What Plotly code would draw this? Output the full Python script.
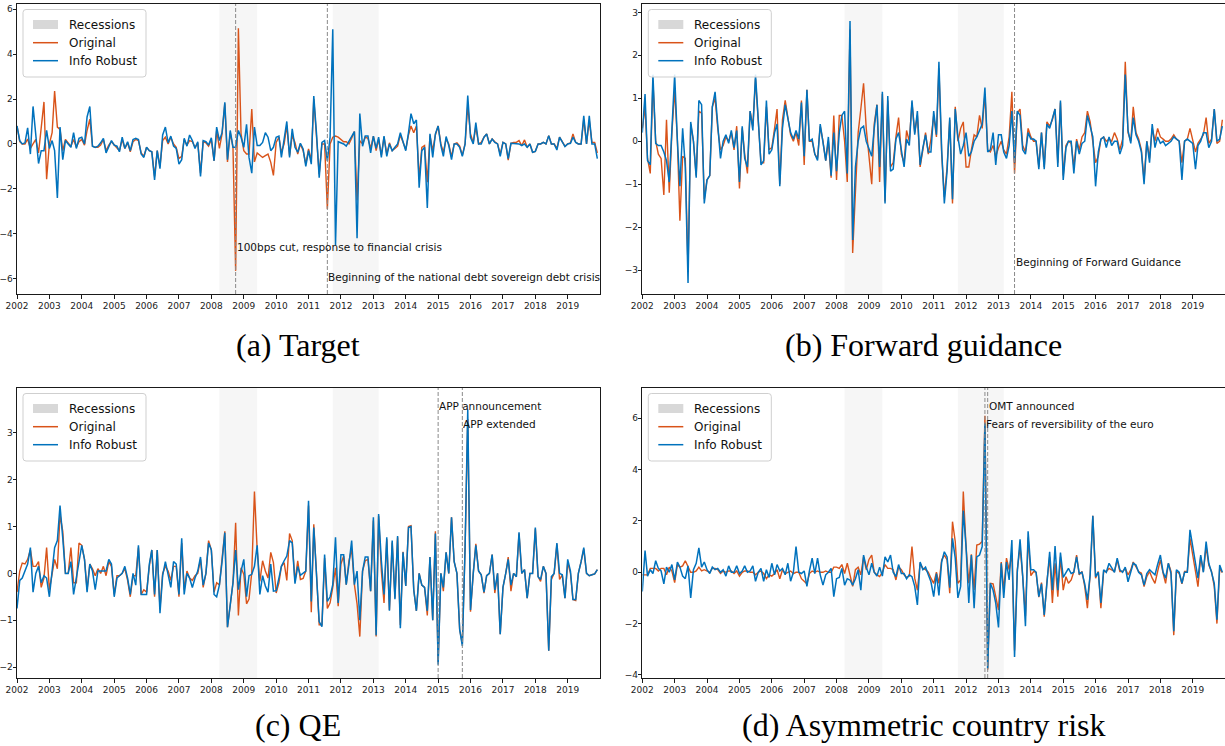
import pandas as pd
import plotly.graph_objects as go

W, H = 1225, 746

# Monthly observations, Jan 2002 - Dec 2019
dates = pd.date_range("2002-01-01", periods=216, freq="MS")

# (a) Target
target_original = [
    0.8, 0.1, 0.0, 0.0, 0.22, -0.2, 0.0, 0.2, -0.4, 0.6, 1.87, -1.57,
    0.0, 0.5, 2.35, 0.75, 0.65, -0.3, 0.2, 0.05, -0.1, 0.2, -0.15, 0.1,
    0.2, -0.05, 0.6, 1.1, -0.1, -0.15, -0.15, -0.05, 0.2, -0.3, -0.05, 0.1,
    -0.05, -0.15, -0.3, 0.2, -0.2, 0.05, -0.35, 0.1, 0.2, 0.15, -0.4, -0.55,
    -0.15, -0.3, -0.35, -1.45, -0.3, -1.0, 0.15, 0.3, 0.0, 0.3, 0.0, -0.15,
    -0.65, -0.55, 0.2, -0.05, 0.15, 0.1, -0.15, 0.05, -1.3, 0.1, 0.05, -0.1,
    0.2, -0.75, 0.6, -0.2, 0.45, 1.8, -0.8, 0.5, -0.15, -5.65, 5.15, 0.45,
    -0.3, -0.45, -0.45, 1.55, -0.8, -0.4, -0.5, -0.6, -0.52, -0.45, -0.82, -1.4,
    0.07, 0.3, -0.37, 0.0, 0.82, -0.52, 0.37, 0.07, -0.45, 0.0, -0.3, -0.9,
    -0.22, -0.75, 2.0, 0.15, -1.35, 0.0, 0.0, -2.9, 0.0, 0.3, 0.35, 0.3,
    0.2, 0.1, 0.1, 0.0, 0.25, 0.55, -2.5, 0.15, 0.0, 0.3, 0.25, -0.2,
    0.35, -0.3, 0.2, -0.5, 0.3, -0.45, 0.05, -0.3, -0.2, -0.1, 0.4, 0.1,
    -0.25, 0.4, 0.8, 0.5, 0.8, -1.55, -0.15, -0.07, -1.7, 0.37, -0.3, 0.4,
    0.8, 0.0, -0.37, 0.22, 0.0, -0.57, 0.0, 0.05, -0.1, -0.5, 0.0, 1.7,
    0.45, 0.07, 0.75, 0.0, 0.07, 0.3, 0.45, 0.0, 0.22, 0.1, 0.0, -0.45,
    0.07, 0.0, -0.72, 0.03, 0.07, 0.07, 0.15, -0.07, 0.18, -0.15, 0.0, -0.37,
    -0.33, 0.0, 0.0, 0.07, 0.0, 0.37, 0.0, 0.0, -0.2, 0.3, 0.07, -0.1,
    0.0, 0.05, 0.45, 0.07, 0.0, 0.0, 1.1, 0.0, 1.05, 0.07, 0.07, -0.4,
]
target_robust = [
    0.8, 0.15, 0.0, 0.05, 0.72, -0.45, 1.67, 0.2, -0.87, -0.3, -0.3, 0.6,
    -0.2, 0.15, -0.3, -2.4, 0.75, -0.7, 0.15, 0.0, -0.15, 0.5, -0.2, 0.25,
    0.3, 0.0, 1.2, 1.67, -0.1, -0.15, -0.1, 0.05, 0.25, -0.4, -0.1, 0.15,
    -0.05, -0.1, -0.35, 0.3, -0.2, 0.1, -0.3, 0.2, 0.25, 0.2, -0.45, -0.6,
    -0.15, -0.3, -0.35, -1.6, -0.3, -1.1, 0.4, 0.75, 0.05, 0.35, -0.1, -0.2,
    -0.9, -0.7, 0.25, -0.1, 0.4, 0.15, -0.2, 0.1, -1.45, 0.15, 0.1, -0.05,
    0.27, -0.75, 0.75, 0.15, 0.5, 1.85, -0.7, 0.6, -0.15, -0.15, 0.6, 0.3,
    -0.15, 0.87, -0.6, -1.3, 0.75, -0.07, -0.07, 0.07, 0.5, 0.3, -0.3, -0.15,
    0.3, 0.35, -0.6, 0.15, 1.0, -0.6, 0.67, -0.15, -0.37, 0.03, -0.22, -1.0,
    -0.3, -0.9, 2.13, 0.45, -1.5, 0.07, 0.15, -0.75, 0.3, 5.1, -4.5, 0.1,
    0.05, 0.0, -0.1, 0.1, 0.3, 0.55, -4.2, 1.35, -0.1, 0.35, 0.35, -0.4,
    0.35, -0.2, 0.3, -0.6, 0.35, -0.55, 0.0, -0.3, -0.15, 0.0, 0.5, 0.15,
    -0.3, 0.5, 1.35, 0.9, 1.07, -1.95, -0.3, -0.15, -2.85, 0.45, -0.6, 0.45,
    0.8, -0.07, -0.55, 0.33, -0.07, -0.7, 0.0, 0.0, -0.15, -0.55, 0.0, 2.15,
    0.3, 0.0, 0.95, 0.0, 0.0, 0.3, 0.45, 0.0, 0.22, 0.07, 0.0, -0.55,
    0.07, 0.0, -0.65, 0.03, 0.03, 0.0, 0.0, -0.07, 0.0, -0.15, 0.0, -0.37,
    -0.33, 0.0, 0.0, 0.07, 0.0, 0.37, 0.0, 0.0, -0.27, 0.3, 0.07, -0.12,
    0.0, 0.03, 0.3, 0.07, 0.0, 0.0, 1.25, 0.0, 1.25, 0.0, 0.0, -0.65,
]

# (b) Forward guidance
fg_original = [
    0.3, 0.8, -0.4, -0.75, 1.4, 0.0, -0.3, -0.4, -1.25, 0.5, -1.2, 0.2,
    1.2, 0.0, -1.85, -0.35, -0.4, -3.0, 0.4, 0.0, -0.8, 0.7, 0.65, -1.35,
    -0.9, -0.8, 0.8, 1.0, 0.3, -0.2, -0.1, 0.1, 0.0, 0.2, -0.2, 0.35,
    -1.1, 0.3, -0.3, -0.75, 0.7, 0.35, 1.45, 0.4, -0.5, -0.5, 0.8, -0.2,
    -0.15, 0.3, 0.75, -1.0, 0.5, 0.95, 0.6, 0.15, 0.0, 0.2, -0.1, 0.95,
    -0.55, 1.2, 0.0, 0.0, -0.3, -0.4, 0.35, 0.0, -0.45, 0.0, -0.85, 0.6,
    -0.9, 0.6, 0.6, 0.0, -0.95, 2.6, -2.6, -1.3, 0.2, 0.75, 1.35, 0.3,
    -0.3, -1.0, 0.4, 0.85, -0.95, 1.1, -1.4, 0.95, -0.6, -0.5, 0.1, 0.55,
    -0.3, -0.5, 0.25, 0.0, 0.9, 0.2, 0.6, -0.6, -0.2, 0.2, -0.3, 0.05,
    0.6, 0.1, 1.7, -0.3, -1.3, -0.6, 0.5, -1.45, 0.8, 0.0, 0.3, 0.45,
    -0.6, -0.6, -0.2, 0.15, 0.1, 0.6, 0.3, 1.1, -0.2, -0.25, -0.1, -0.35,
    -0.15, 0.0, -0.2, -0.3, 0.1, 1.15, -0.75, 0.65, 0.75, -0.1, -0.25, 0.3,
    0.1, 0.0, 0.0, -0.6, 0.2, -0.6, 0.45, 0.35, 0.5, 0.75, -0.5, 0.9,
    -0.8, -0.1, 0.0, -0.05, -0.6, 0.05, -0.2, 0.1, 0.2, 0.7, 0.45, 0.0,
    -0.5, -0.35, 0.05, 0.1, 0.0, 0.05, 0.0, 0.2, 0.05, -0.2, 0.05, 1.85,
    0.2, 0.0, 0.8, 0.2, 0.05, -0.2, -0.9, 0.0, -0.4, 0.3, 0.0, 0.3,
    0.1, 0.05, 0.0, 0.0, 0.05, 0.15, 0.05, 0.0, -0.5, 0.0, 0.05, 0.3,
    0.05, -0.25, -0.05, 0.05, 0.15, 0.55, -0.05, 0.05, 0.75, -0.05, 0.0, 0.5,
]
fg_robust = [
    0.2, 1.1, -0.45, -0.55, 1.55, -0.05, -0.1, -0.1, -0.25, -0.45, -0.95, 0.3,
    1.55, 0.0, -1.05, 0.3, -0.6, -3.3, 0.45, 0.0, -0.85, 0.95, 0.85, -1.45,
    -0.9, -0.8, 0.8, 1.15, 0.3, -0.4, 0.0, 0.15, -0.05, 0.25, -0.15, 0.25,
    -0.95, 0.35, -0.4, -0.6, 0.7, 0.25, 1.55, 0.35, -0.55, -0.45, 0.95, -0.3,
    -0.2, 0.2, 0.4, -1.05, 0.3, 0.85, 0.55, 0.2, 0.05, 0.25, 0.05, 0.9,
    -0.35, 1.2, 0.0, 0.05, -0.3, -0.45, 0.4, 0.0, -0.45, 0.1, -0.8, 0.2,
    -0.7, 0.2, 0.6, 0.7, -0.75, 2.8, -2.3, -0.6, 0.0, 0.3, 0.35, 0.0,
    -0.2, -0.35, 0.3, 0.85, -0.6, 1.15, -1.45, 1.05, -0.7, -0.65, 0.05, 0.2,
    -0.2, -0.6, 0.05, -0.1, 0.95, 0.15, 0.7, -0.55, -0.15, 0.15, -0.25, -0.25,
    0.7, 0.15, 1.85, -0.2, -1.45, -0.7, 0.55, -1.35, 0.75, 0.1, -0.3, -0.1,
    0.2, -0.35, -0.25, 0.0, 0.1, 0.25, 0.4, 1.25, -0.25, -0.2, 0.2, -0.55,
    0.15, 0.15, -0.25, -0.4, -0.1, 0.7, -0.5, 0.7, 0.6, -0.2, -0.3, 0.2,
    0.05, 0.05, 0.0, -0.65, 0.2, -0.65, 0.4, 0.3, 0.5, 0.75, -0.6, 0.95,
    -0.9, -0.15, 0.0, 0.0, -0.75, 0.0, -0.3, -0.05, 0.0, 0.6, 0.35, 0.1,
    -1.05, -0.25, 0.05, 0.1, -0.15, 0.1, -0.1, 0.0, 0.0, -0.3, -0.1, 1.55,
    0.25, -0.05, 0.55, 0.15, 0.0, -0.25, -1.0, 0.0, -0.5, 0.4, -0.15, 0.1,
    -0.05, 0.0, -0.1, -0.05, 0.0, 0.1, 0.05, 0.0, -0.9, 0.0, 0.05, 0.0,
    -0.05, -0.65, -0.1, 0.0, 0.2, 0.2, -0.15, 0.0, 0.75, 0.0, 0.05, 0.35,
]

# (c) QE
qe_original = [
    -0.4, 0.05, 0.22, 0.2, 0.3, 0.5, 0.15, 0.15, 0.25, -0.3, -0.1, 0.55,
    -0.35, 0.0, 0.3, 0.1, 1.25, 0.9, 0.0, 0.0, 0.55, -0.2, -0.2, 0.65,
    0.6, 0.3, -0.35, 0.2, 0.1, -0.05, 0.1, 0.0, 0.15, -0.05, 0.25, 0.15,
    -0.45, -0.05, -0.05, 0.0, 0.1, -0.15, -0.5, -0.05, -0.05, 0.55, -0.45, -0.35,
    -0.4, 0.15, 0.5, -0.5, 0.5, -0.75, 0.0, 0.15, 0.05, -0.15, 0.15, 0.15,
    -0.5, 0.65, -0.35, 0.05, -0.1, -0.15, -0.05, 0.0, 0.3, -0.3, 0.0, 0.7,
    0.5, -0.4, -0.2, -0.25, 0.25, 0.9, -1.15, -0.6, -0.2, 1.08, -0.9, 0.12,
    -0.02, -0.65, -0.55, 0.02, 1.75, 0.5, -0.17, 0.27, 0.05, -0.1, 0.45, 0.23,
    -0.42, -0.2, 0.15, 0.23, -0.15, 0.85, 0.7, -0.17, 0.27, -0.13, -0.11, 0.05,
    1.45, -0.83, 1.05, -0.02, -1.1, -1.1, 0.33, -0.75, -0.63, -0.3, 0.12, -0.7,
    0.2, 0.37, -0.24, 0.27, 0.52, -0.24, -0.65, -1.35, 0.05, 0.27, 0.3, -0.38,
    1.13, -1.35, 1.23, 0.05, -0.63, 0.73, -0.78, 0.66, -0.52, 0.77, -1.1, 0.46,
    -0.27, 1.0, 1.02, -0.35, -0.8, 0.0, -0.25, -0.3, -0.9, 0.35, -1.0, 0.9,
    -1.9, 0.0, -0.38, 0.45, 0.0, 1.2, 0.25, 0.0, -1.2, -1.5, 0.55, 3.3,
    -0.82, 0.0, 0.63, 0.05, -0.03, -0.42, -0.05, 0.0, 0.4, -0.42, 0.0, -1.3,
    -0.3, 0.0, 0.35, -0.38, 0.0, -0.07, 0.85, 0.0, 0.08, -0.53, 0.0, 0.0,
    0.95, -0.07, -0.17, 0.15, 0.0, -1.65, -0.13, 0.0, 0.62, -0.13, -0.03, -0.53,
    0.23, 0.0, -0.56, -0.58, 0.0, 0.25, 0.52, 0.0, -0.05, -0.03, -0.01, 0.08,
]
qe_robust = [
    -0.75, -0.15, -0.1, 0.05, 0.2, 0.55, -0.4, 0.0, 0.15, -0.2, -0.05, -0.1,
    -0.5, 0.05, 0.55, 0.7, 1.45, 0.75, 0.0, 0.0, 0.25, -0.45, -0.1, 0.3,
    0.6, 0.3, -0.4, 0.2, 0.05, -0.35, 0.05, 0.05, 0.05, 0.05, 0.3, 0.2,
    -0.5, -0.1, -0.05, 0.0, 0.15, -0.1, -0.45, 0.0, -0.25, 0.6, -0.45, -0.45,
    -0.45, 0.2, 0.5, -0.45, 0.5, -0.85, -0.05, 0.25, 0.0, -0.3, 0.25, 0.2,
    -0.45, 0.75, -0.45, 0.0, -0.1, -0.3, -0.1, 0.05, 0.35, -0.25, 0.0, 0.65,
    0.5, -0.45, -0.5, -0.25, 0.25, 0.87, -1.15, -0.6, -0.2, 0.5, -0.35, 0.05,
    0.3, -0.5, -0.05, -0.02, 0.15, 0.6, -0.45, -0.05, -0.27, -0.4, 0.2, -0.38,
    -0.37, -0.1, 0.15, 0.27, 0.37, 0.7, 0.65, -0.22, 0.15, -0.04, 0.0, 0.05,
    1.55, -0.6, 0.98, 0.05, -1.03, -1.14, 0.4, -0.6, -0.5, -0.24, 0.77, -0.63,
    0.4, 0.4, -0.24, 0.2, 0.7, -0.24, 0.05, -1.0, 0.05, 0.35, 0.35, -0.38,
    1.2, -1.32, 1.27, 0.27, -0.45, 0.77, -0.8, 0.7, -0.55, 0.8, -1.17, 0.45,
    -0.27, 0.98, 1.0, -0.35, -0.8, 0.0, -0.25, -0.3, -0.8, 0.35, -1.0, 0.85,
    -1.95, 0.0, -0.3, 0.45, 0.0, 1.2, 0.25, 0.0, -1.2, -1.55, 0.55, 3.5,
    -0.78, 0.0, 0.6, 0.05, -0.03, -0.4, -0.05, 0.0, 0.4, -0.35, 0.0, -1.3,
    -0.3, 0.0, 0.3, -0.25, 0.0, -0.07, 0.88, 0.0, 0.08, -0.53, 0.0, 0.0,
    0.98, -0.07, -0.13, 0.15, 0.0, -1.65, -0.07, 0.0, 0.65, 0.0, -0.03, -0.53,
    0.3, 0.05, -0.56, -0.56, 0.0, 0.25, 0.55, 0.0, -0.05, -0.03, -0.01, 0.08,
]

# (d) Asymmetric country risk
acr_original = [
    -0.1, -0.1, -0.1, 0.15, 0.15, 0.15, 0.05, 0.15, 0.15, -0.1, 0.2, 0.05,
    -0.4, 0.3, 0.2, 0.25, 0.45, 0.2, 0.0, 0.0, 0.05, 0.2, 0.05, 0.1,
    0.05, 0.0, 0.15, 0.15, 0.1, -0.05, 0.05, 0.0, 0.05, 0.05, -0.05, 0.05,
    -0.15, 0.0, 0.05, 0.05, 0.0, 0.0, -0.1, 0.0, 0.05, -0.05, -0.25, -0.1,
    -0.15, -0.05, 0.1, -0.25, 0.1, -0.05, 0.0, 0.05, -0.05, 0.0, 0.0, -0.25,
    -0.35, -0.45, -0.05, 0.05, 0.0, 0.05, 0.0, 0.0, 0.05, 0.0, 0.0, 0.2,
    0.2, 0.15, 0.3, -0.05, 0.35, -0.05, -0.55, 0.1, 0.2, -0.1, 0.6, 0.1,
    0.5, 0.67, 0.0, -0.1, -0.17, 0.0, 0.3, 0.15, 0.15, 0.1, -0.3, 0.2,
    0.1, -0.1, -0.2, -0.15, 1.0, -0.23, -0.7, 0.35, 0.15, 0.1, 0.0, -0.23,
    -0.43, 0.0, -0.43, 0.48, 0.67, 0.48, -0.82, 1.97, 1.2, -0.43, -0.3, 3.15,
    1.0, -0.43, 0.7, -0.69, 1.06, 1.1, 1.2, 6.1, -3.8, -0.43, -0.45, -0.95,
    -1.47, 0.4, -0.69, 0.55, 0.1, 0.74, -3.05, 0.1, 1.0, -0.17, -1.7, 1.35,
    -0.13, 0.03, 0.0, -0.97, -0.4, -1.73, -0.36, 0.6, -1.2, 0.35, -0.95, 0.6,
    -0.7, -0.17, -0.43, -0.3, 0.03, 0.67, -0.1, 0.03, -0.56, -1.4, -0.1, 2.2,
    -0.23, 0.03, -1.4, 0.03, 0.03, 0.15, 0.09, 0.03, 0.48, 0.03, 0.03, 0.15,
    -0.1, 0.09, 0.4, 0.22, 0.03, -0.04, -0.56, -0.17, 0.03, -0.23, -0.43, 0.03,
    0.48, -0.04, -0.43, 0.35, 0.03, -2.45, 0.03, -0.04, -0.45, 0.03, 0.03, 1.32,
    0.74, 0.03, -0.56, 0.6, 0.03, 1.0, 0.28, 0.03, -0.56, -2.0, 0.15, -0.01,
]
acr_robust = [
    -0.75, 0.85, -0.15, 0.1, -0.05, 0.45, 0.15, 0.05, -0.45, 0.2, 0.0, 0.3,
    -0.3, 0.4, 0.2, -0.15, -0.25, 0.25, -1.0, 0.1, 0.35, 0.95, 0.2, 0.4,
    0.1, -0.05, 0.2, 0.1, 0.15, 0.0, 0.1, -0.15, 0.25, 0.0, 0.0, 0.25,
    -0.05, 0.05, 0.25, 0.0, 0.05, 0.25, -0.35, 0.0, 0.15, -0.35, 0.1, -0.2,
    0.35, -0.1, 0.3, 0.05, 0.15, -0.1, 0.35, -0.35, 0.0, 1.0, 0.0, -0.05,
    0.05, -0.55, 0.05, 0.55, -0.05, 0.55, -0.1, -0.5, -0.1, 0.0, 0.15, -0.95,
    -0.25, -0.2, 0.15, -0.5, -0.25, -0.3, -0.5, -0.25, 0.1, -0.7, 0.67, 0.2,
    -0.1, 0.35, 0.0, -0.15, 0.2, -0.15, 0.6, 0.4, 0.67, 0.0, -0.17, 0.3,
    -0.05, -0.05, -0.25, -0.1, -0.17, -0.55, -1.27, 0.4, 0.1, 0.2, -0.1, -0.37,
    -0.95, -0.05, -0.9, 0.4, 0.8, 0.6, -0.6, 1.32, 0.55, -1.0, -0.55, 2.4,
    1.0, -1.2, 0.67, -1.4, 0.6, 0.67, 1.0, 5.8, -3.75, -0.43, -0.7, -1.2,
    -2.15, 0.35, -1.0, 0.4, -0.3, 1.26, -3.3, 0.0, 1.28, -0.15, -2.1, 1.6,
    0.1, 0.1, 0.0, -0.95, -0.45, -1.66, -0.45, 0.8, -0.7, 1.02, -0.7, 0.77,
    -0.2, 0.0, 0.15, -0.05, 0.0, 0.6, -0.05, 0.0, -0.45, -1.08, -0.1, 2.2,
    -0.17, 0.0, -1.2, 0.1, 0.0, 0.35, 0.15, 0.0, 0.55, 0.1, 0.0, 0.2,
    -0.37, 0.0, 0.35, 0.28, 0.0, -0.1, -0.5, -0.05, 0.1, 0.0, -0.1, 0.3,
    0.67, 0.0, -0.23, 0.35, -0.05, -2.3, 0.1, 0.0, -0.43, 0.0, 0.0, 1.65,
    1.0, 0.28, -0.23, 0.67, 0.0, 1.2, 0.35, 0.0, -0.43, -1.85, 0.28, 0.0,
]

# Euro-area recession periods
recession_starts = ["2008-04-01", "2011-10-01"]
recession_ends = ["2009-06-01", "2013-03-01"]

ORANGE = "#D95319"
BLUE = "#0072BD"
SANS = "DejaVu Sans"
SERIF = "Liberation Serif"


def fx(px):
    return px / W


def fy(py):
    return 1 - py / H


# Pixel frame of every panel: left, top, right, bottom
panels = [
    dict(orig=target_original, robust=target_robust, box=(17, 4, 600, 294),
         yrange=[-6.68, 6.23], dtick=2, caption="(a) Target", cap=(298, 345),
         events=[("2008-10-01", "100bps cut, response to financial crisis", 247),
                 ("2011-08-01", "Beginning of the national debt sovereign debt crisis", 277)]),
    dict(orig=fg_original, robust=fg_robust, box=(642.3, 4, 1225, 294),
         yrange=[-3.557, 3.195], dtick=1, caption="(b) Forward guidance", cap=(923, 345),
         events=[("2013-07-01", "Beginning of Forward Guidance", 262)]),
    dict(orig=qe_original, robust=qe_robust, box=(17, 388, 600, 678),
         yrange=[-2.235, 3.96], dtick=1, caption="(c) QE", cap=(298, 725),
         events=[("2015-01-01", "APP announcement", 406),
                 ("2015-10-01", "APP extended", 424)]),
    dict(orig=acr_original, robust=acr_robust, box=(642.3, 388, 1225, 678),
         yrange=[-4.12, 7.18], dtick=2, caption="(d) Asymmetric country risk", cap=(923, 725),
         events=[("2012-09-01", "OMT announced", 406),
                 ("2012-08-01", "Fears of reversibility of the euro", 424)]),
]

fig = go.Figure()
shapes = []
annotations = []
layout_axes = {}

for k, p in enumerate(panels, start=1):
    sx = "" if k == 1 else str(k)
    xa, ya = "x" + sx, "y" + sx
    left, top, right, bottom = p["box"]

    fig.add_trace(go.Scatter(x=dates, y=p["orig"], mode="lines", name="Original",
                             line=dict(color=ORANGE, width=1.4), xaxis=xa, yaxis=ya,
                             showlegend=False))
    fig.add_trace(go.Scatter(x=dates, y=p["robust"], mode="lines", name="Info Robust",
                             line=dict(color=BLUE, width=1.5), xaxis=xa, yaxis=ya,
                             showlegend=False))

    axis_style = dict(showline=True, mirror=True, linecolor="#1a1a1a", linewidth=1,
                      ticks="outside", ticklen=3.5, tickwidth=0.8, tickcolor="#1a1a1a",
                      showgrid=False, zeroline=False, automargin=False,
                      tickfont=dict(family=SANS, size=9, color="#222"))
    layout_axes["xaxis" + sx] = dict(
        axis_style, type="date", domain=[fx(left), min(fx(right), 1.0)],
        range=["2002-01-01", "2019-12-31"], anchor=ya,
        tickmode="linear", tick0="2002-01-01", dtick="M12", tickformat="%Y")
    layout_axes["yaxis" + sx] = dict(
        axis_style, domain=[fy(bottom), fy(top)], range=p["yrange"], anchor=xa,
        tickmode="linear", tick0=0, dtick=p["dtick"], ticklabelstandoff=-2)

    # recession shading
    for s, e in zip(recession_starts, recession_ends):
        shapes.append(dict(type="rect", xref=xa, yref=ya + " domain", x0=s, x1=e,
                           y0=0, y1=1, fillcolor="#f6f6f6", line=dict(width=0),
                           layer="below"))

    # event markers with labels
    for d, label, ty in p["events"]:
        shapes.append(dict(type="line", xref=xa, yref=ya + " domain", x0=d, x1=d,
                           y0=0, y1=1, line=dict(color="#8a8a8a", width=1, dash="4px,2px"),
                           layer="above"))
        annotations.append(dict(x=d, y=fy(ty), xref=xa, yref="paper", text=label,
                                showarrow=False, xanchor="left", yanchor="middle",
                                xshift=-1, font=dict(family=SANS, size=10.5, color="#111")))

    # legend box
    bx0, by0, bx1, by1 = left + 6, top + 5.5, left + 129, top + 73
    r = 3
    path = (f"M {fx(bx0 + r)},{fy(by0)} L {fx(bx1 - r)},{fy(by0)} "
            f"Q {fx(bx1)},{fy(by0)} {fx(bx1)},{fy(by0 + r)} "
            f"L {fx(bx1)},{fy(by1 - r)} Q {fx(bx1)},{fy(by1)} {fx(bx1 - r)},{fy(by1)} "
            f"L {fx(bx0 + r)},{fy(by1)} Q {fx(bx0)},{fy(by1)} {fx(bx0)},{fy(by1 - r)} "
            f"L {fx(bx0)},{fy(by0 + r)} Q {fx(bx0)},{fy(by0)} {fx(bx0 + r)},{fy(by0)} Z")
    shapes.append(dict(type="path", xref="paper", yref="paper", path=path,
                       fillcolor="rgba(255,255,255,0.85)",
                       line=dict(color="#cfcfcf", width=1), layer="above"))
    shapes.append(dict(type="rect", xref="paper", yref="paper",
                       x0=fx(left + 16), x1=fx(left + 41), y0=fy(top + 25), y1=fy(top + 16),
                       fillcolor="#d8d8d8", line=dict(width=0), layer="above"))
    for yy, col in ((top + 38.7, ORANGE), (top + 56.7, BLUE)):
        shapes.append(dict(type="line", xref="paper", yref="paper",
                           x0=fx(left + 16), x1=fx(left + 41), y0=fy(yy), y1=fy(yy),
                           line=dict(color=col, width=1.5), layer="above"))
    for yy, txt in ((top + 21, "Recessions"), (top + 39, "Original"), (top + 57, "Info Robust")):
        annotations.append(dict(x=fx(left + 49.5), y=fy(yy), xref="paper", yref="paper",
                                text=txt, showarrow=False, xanchor="left", yanchor="middle",
                                font=dict(family=SANS, size=12, color="#111")))

    # sub-figure caption
    cx, cy = p["cap"]
    annotations.append(dict(x=fx(cx), y=fy(cy), xref="paper", yref="paper",
                            text=p["caption"], showarrow=False,
                            xanchor="center", yanchor="middle",
                            font=dict(family=SERIF, size=32, color="#000")))

fig.update_layout(
    width=W, height=H, margin=dict(l=0, r=0, t=0, b=0),
    paper_bgcolor="white", plot_bgcolor="white",
    showlegend=False, shapes=shapes, annotations=annotations,
    **layout_axes,
)

fig.write_html("out.html", config={"displayModeBar": False})
